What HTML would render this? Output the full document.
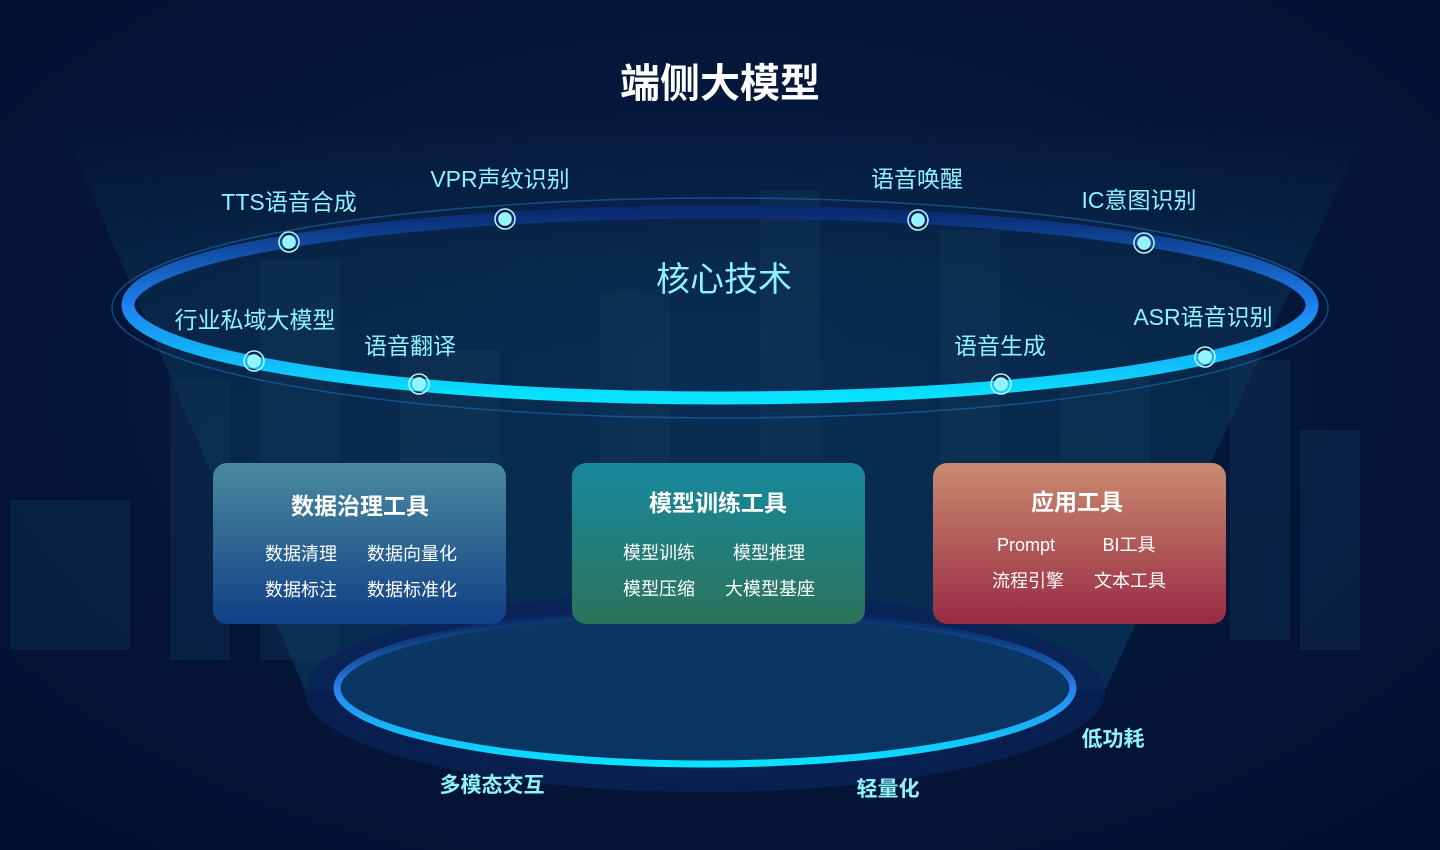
<!DOCTYPE html>
<html><head><meta charset="utf-8"><style>
html,body{margin:0;padding:0;background:#031030;}
svg{display:block}
text{font-family:"Liberation Sans","Noto Sans CJK SC",sans-serif;}
</style></head><body>
<svg width="1440" height="850" viewBox="0 0 1440 850" xmlns="http://www.w3.org/2000/svg">
<defs>
<radialGradient id="bg" cx="50%" cy="45%" r="70%">
<stop offset="0" stop-color="#082048"/><stop offset="1" stop-color="#02102e"/>
</radialGradient>
<linearGradient id="beam" x1="0" y1="0" x2="0" y2="1">
<stop offset="0" stop-color="#0e4a6a" stop-opacity="0"/>
<stop offset="0.25" stop-color="#0e4a6a" stop-opacity="0.35"/>
<stop offset="0.6" stop-color="#0b3d62" stop-opacity="0.6"/>
<stop offset="1" stop-color="#0a3c64" stop-opacity="0.8"/>
</linearGradient>
<linearGradient id="ring" x1="0" y1="0" x2="0" y2="1">
<stop offset="0" stop-color="#0a2a70"/><stop offset="0.5" stop-color="#1e80f0"/><stop offset="1" stop-color="#08e4ff"/>
</linearGradient>
<linearGradient id="ring2" x1="0" y1="0" x2="0" y2="1">
<stop offset="0" stop-color="#0a3070" stop-opacity="0.3"/><stop offset="0.5" stop-color="#2a80f0"/><stop offset="1" stop-color="#08e4ff"/>
</linearGradient>
<linearGradient id="b1" x1="0" y1="0" x2="0" y2="1"><stop offset="0" stop-color="#4a8a9e"/><stop offset="1" stop-color="#113f86"/></linearGradient>
<linearGradient id="b2" x1="0" y1="0" x2="0" y2="1"><stop offset="0" stop-color="#17899e"/><stop offset="1" stop-color="#2d735a"/></linearGradient>
<linearGradient id="b3" x1="0" y1="0" x2="0" y2="1"><stop offset="0" stop-color="#c98b6f"/><stop offset="1" stop-color="#992a44"/></linearGradient>
</defs>
<rect width="1440" height="850" fill="url(#bg)"/>
<polygon points="60,120 1370,120 1105,690 305,690" fill="url(#beam)" opacity="0.75"/>
<g fill="#15385c" opacity="0.35">
<rect x="10" y="500" width="120" height="150"/><rect x="170" y="380" width="60" height="280"/>
<rect x="260" y="260" width="80" height="400"/><rect x="400" y="350" width="100" height="300"/>
<rect x="600" y="290" width="70" height="200"/><rect x="760" y="190" width="60" height="270"/>
<rect x="940" y="230" width="60" height="230"/><rect x="1060" y="370" width="90" height="100"/>
<rect x="1230" y="360" width="60" height="280"/><rect x="1300" y="430" width="60" height="220"/>
</g>
<ellipse cx="720" cy="308" rx="608" ry="110" fill="none" stroke="#1e6bb0" stroke-width="1.5" opacity="0.6"/>
<ellipse cx="720" cy="305" rx="592" ry="93" fill="none" stroke="url(#ring)" stroke-width="13"/>
<ellipse cx="705" cy="692" rx="400" ry="100" fill="#0a2258" opacity="0.8"/>
<ellipse cx="705" cy="688" rx="368" ry="76" fill="#0b3a66" opacity="0.85"/>
<ellipse cx="705" cy="688" rx="368" ry="76" fill="none" stroke="url(#ring2)" stroke-width="7"/>
<g fill="#8ff4ff" stroke="#b9f6ff" stroke-width="1.5">
<g><circle cx="289" cy="242" r="6"/><circle cx="289" cy="242" r="10" fill="none"/></g>
<g><circle cx="505" cy="219" r="6"/><circle cx="505" cy="219" r="10" fill="none"/></g>
<g><circle cx="918" cy="220" r="6"/><circle cx="918" cy="220" r="10" fill="none"/></g>
<g><circle cx="1144" cy="243" r="6"/><circle cx="1144" cy="243" r="10" fill="none"/></g>
<g><circle cx="254" cy="361" r="6"/><circle cx="254" cy="361" r="10" fill="none"/></g>
<g><circle cx="419" cy="384" r="6"/><circle cx="419" cy="384" r="10" fill="none"/></g>
<g><circle cx="1001" cy="384" r="6"/><circle cx="1001" cy="384" r="10" fill="none"/></g>
<g><circle cx="1205" cy="357" r="6"/><circle cx="1205" cy="357" r="10" fill="none"/></g>
</g>
<text x="720" y="97" text-anchor="middle" font-size="40" font-weight="bold" fill="#ffffff">端侧大模型</text>
<text x="724" y="291" text-anchor="middle" font-size="34" fill="#8ef3ff">核心技术</text>
<g font-size="23" fill="#8ef3ff" text-anchor="middle">
<text x="289" y="210">TTS语音合成</text>
<text x="500" y="187">VPR声纹识别</text>
<text x="917" y="187">语音唤醒</text>
<text x="1139" y="208">IC意图识别</text>
<text x="255" y="328">行业私域大模型</text>
<text x="410" y="354">语音翻译</text>
<text x="1000" y="354">语音生成</text>
<text x="1203" y="325">ASR语音识别</text>
</g>
<g font-size="21" font-weight="bold" fill="#8ef3ff" text-anchor="middle">
<text x="492" y="792">多模态交互</text>
<text x="888" y="796">轻量化</text>
<text x="1113" y="746">低功耗</text>
</g>
<rect x="213" y="463" width="293" height="161" rx="14" fill="url(#b1)"/>
<rect x="572" y="463" width="293" height="161" rx="14" fill="url(#b2)"/>
<rect x="933" y="463" width="293" height="161" rx="14" fill="url(#b3)"/>
<g fill="#ffffff" text-anchor="middle">
<text x="360" y="514" font-size="23" font-weight="bold">数据治理工具</text>
<text x="718" y="511" font-size="23" font-weight="bold">模型训练工具</text>
<text x="1077" y="510" font-size="23" font-weight="bold">应用工具</text>
<g font-size="18">
<text x="301" y="560">数据清理</text><text x="412" y="560">数据向量化</text>
<text x="301" y="596">数据标注</text><text x="412" y="596">数据标准化</text>
<text x="659" y="559">模型训练</text><text x="769" y="559">模型推理</text>
<text x="659" y="595">模型压缩</text><text x="770" y="595">大模型基座</text>
<text x="1026" y="551">Prompt</text><text x="1129" y="551">BI工具</text>
<text x="1028" y="587">流程引擎</text><text x="1130" y="587">文本工具</text>
</g>
</g>
</svg>
</body></html>
